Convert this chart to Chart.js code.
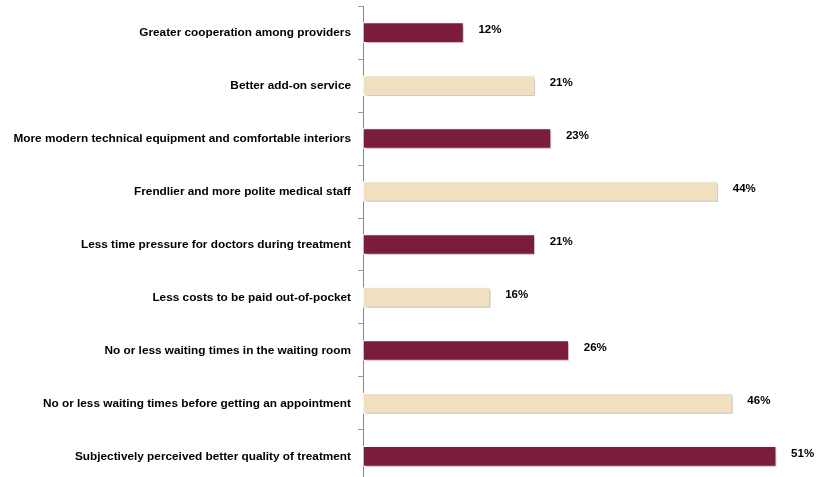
<!DOCTYPE html>
<html>
<head>
<meta charset="utf-8">
<script src="https://cdn.jsdelivr.net/npm/chart.js@4/dist/chart.umd.min.js"></script>
<style>
html,body{margin:0;padding:0;background:#fff;overflow:hidden;}
#wrap{position:relative;width:816px;height:505px;margin-top:-8px;}
</style>
</head>
<body>
<div id="wrap"><canvas id="c"></canvas></div>
<script>
const categories = [
  "Greater cooperation among providers",
  "Better add-on service",
  "More modern technical equipment and comfortable interiors",
  "Frendlier and more polite medical staff",
  "Less time pressure for doctors during treatment",
  "Less costs to be paid out-of-pocket",
  "No or less waiting times in the waiting room",
  "No or less waiting times before getting an appointment",
  "Subjectively perceived better quality of treatment"
];
const values = [12.4, 21.2, 23.2, 43.8, 21.2, 15.7, 25.4, 45.6, 51.0];
const valueLabels = ["12%", "21%", "23%", "44%", "21%", "16%", "26%", "46%", "51%"];
const barColors = ["#7B1C3F","#F1E0BF","#7B1C3F","#F1E0BF","#7B1C3F","#F1E0BF","#7B1C3F","#F1E0BF","#7B1C3F"];

const FONT = '"Liberation Sans", Arial, sans-serif';

const shadowPlugin = {
  id: 'shadow',
  beforeDatasetsDraw(chart) {
    const ctx = chart.ctx;
    ctx.save();
    ctx.shadowColor = 'rgba(0,0,0,0.28)';
    ctx.shadowBlur = 3;
    ctx.shadowOffsetX = 2;
    ctx.shadowOffsetY = 2;
  },
  afterDatasetsDraw(chart) {
    const ctx = chart.ctx;
    ctx.restore();
    const meta = chart.getDatasetMeta(0);
    ctx.save();
    ctx.font = 'bold 11.5px ' + FONT;
    ctx.fillStyle = '#000';
    ctx.textAlign = 'left';
    ctx.textBaseline = 'middle';
    meta.data.forEach((bar, i) => {
      ctx.fillText(valueLabels[i], bar.x + 15, bar.y - 3);
    });
    ctx.restore();
  }
};

new Chart(document.getElementById('c'), {
  type: 'bar',
  data: {
    labels: categories,
    datasets: [{
      data: values,
      backgroundColor: barColors,
      borderColor: '#ffffff',
      borderWidth: 1,
      borderSkipped: false,
      barThickness: 20,
      categoryPercentage: 1,
      barPercentage: 1
    }]
  },
  options: {
    indexAxis: 'y',
    responsive: true,
    maintainAspectRatio: false,
    animation: false,
    layout: { padding: { top: 1, bottom: 3, left: 0, right: 7.5 } },
    plugins: { legend: { display: false }, tooltip: { enabled: false } },
    scales: {
      x: { display: false, min: 0, max: 55 },
      y: {
        afterFit(scale) { scale.width = 363; },
        grid: { offset: true, drawOnChartArea: false, tickLength: 5, color: '#999' },
        border: { display: true, color: '#888', width: 1 },
        ticks: {
          color: '#000',
          padding: 7,
          font: { family: FONT, size: 11.8, weight: 'bold' }
        }
      }
    }
  },
  plugins: [shadowPlugin]
});
</script>
</body>
</html>
